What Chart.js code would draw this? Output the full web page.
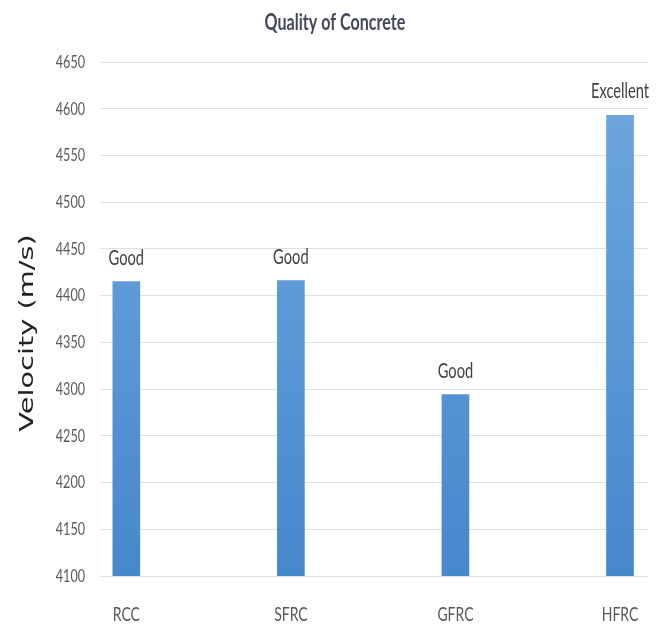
<!DOCTYPE html>
<html>
<head>
<meta charset="utf-8">
<script src="https://cdn.jsdelivr.net/npm/chart.js@4"></script>
<style>
  html, body { margin: 0; padding: 0; background: #fff; }
</style>
</head>
<body>
<canvas id="chart" width="664" height="626"></canvas>
<script>
const categories = ["RCC", "SFRC", "GFRC", "HFRC"];
const velocities = [4415, 4416, 4294, 4593];
const qualityLabels = ["Good", "Good", "Good", "Excellent"];
const yMin = 4100;
const yMax = 4650;
const yStep = 50;

const chartTitle = "Quality of Concrete";
const yTitle = "Velocity (m/s)";

// the source picture is stretched vertically, so horizontal text looks condensed
const SX = 0.7;
const FONT = 'Lato, "Open Sans", sans-serif';

function drawText(ctx, text, x, y, font, color, align, baseline) {
  ctx.save();
  ctx.translate(x, y);
  ctx.scale(SX, 1);
  ctx.font = font;
  ctx.fillStyle = color;
  ctx.textAlign = align;
  ctx.textBaseline = baseline;
  ctx.fillText(text, 0, 0);
  ctx.restore();
}

const textLayer = {
  id: "textLayer",
  afterDraw(chart) {
    const ctx = chart.ctx;
    const { x, y } = chart.scales;

    drawText(ctx, chartTitle, chart.width / 2 + 3, 23, "bold 23px " + FONT, "#44485a", "center", "middle");

    y.ticks.forEach((t) => {
      drawText(ctx, String(t.value), 85, y.getPixelForValue(t.value), "18px " + FONT, "#595959", "right", "middle");
    });

    categories.forEach((c, i) => {
      drawText(ctx, c, x.getPixelForValue(i), 615, "20px " + FONT, "#595959", "center", "middle");
    });

    const meta = chart.getDatasetMeta(0);
    meta.data.forEach((bar, i) => {
      drawText(ctx, qualityLabels[i], bar.x, bar.y - 17, "21px " + FONT, "#404040", "center", "alphabetic");
    });

    ctx.save();
    ctx.translate(28, 333);
    ctx.rotate(-Math.PI / 2);
    ctx.scale(1.44, 1);
    ctx.font = '20px "DejaVu Sans", sans-serif';
    ctx.fillStyle = "#222";
    ctx.textAlign = "center";
    ctx.textBaseline = "middle";
    ctx.fillText(yTitle, 0, 0);
    ctx.restore();
  },
};

function barGradient(context) {
  const area = context.chart.chartArea;
  if (!area) return "#5b9bd5";
  const g = context.chart.ctx.createLinearGradient(0, area.top, 0, area.bottom);
  g.addColorStop(0, "#70a8de");
  g.addColorStop(1, "#4688cc");
  return g;
}

new Chart(document.getElementById("chart"), {
  type: "bar",
  data: {
    datasets: [{
      data: velocities.map((v, i) => ({ x: i, y: v })),
      backgroundColor: barGradient,
      borderWidth: 0,
      barThickness: 27,
    }],
  },
  options: {
    responsive: false,
    animation: false,
    devicePixelRatio: 1,
    layout: { padding: { top: 62, right: 16, bottom: 0, left: 0 } },
    plugins: {
      legend: { display: false },
      tooltip: { enabled: false },
      title: { display: false },
    },
    scales: {
      x: {
        type: "linear",
        min: -0.16,
        max: 3.17,
        offset: false,
        afterBuildTicks: (s) => {
          s.ticks = categories.map((_, i) => ({ value: i }));
        },
        ticks: { display: false },
        grid: { display: false, drawTicks: false },
        border: { display: false },
        afterFit: (s) => { s.height = 50; },
      },
      y: {
        min: yMin,
        max: yMax,
        ticks: { stepSize: yStep, display: false },
        grid: { color: "#e0e0e0", drawTicks: false },
        border: { display: false },
        afterFit: (s) => { s.width = 100; },
      },
    },
  },
  plugins: [textLayer],
});
</script>
</body>
</html>
